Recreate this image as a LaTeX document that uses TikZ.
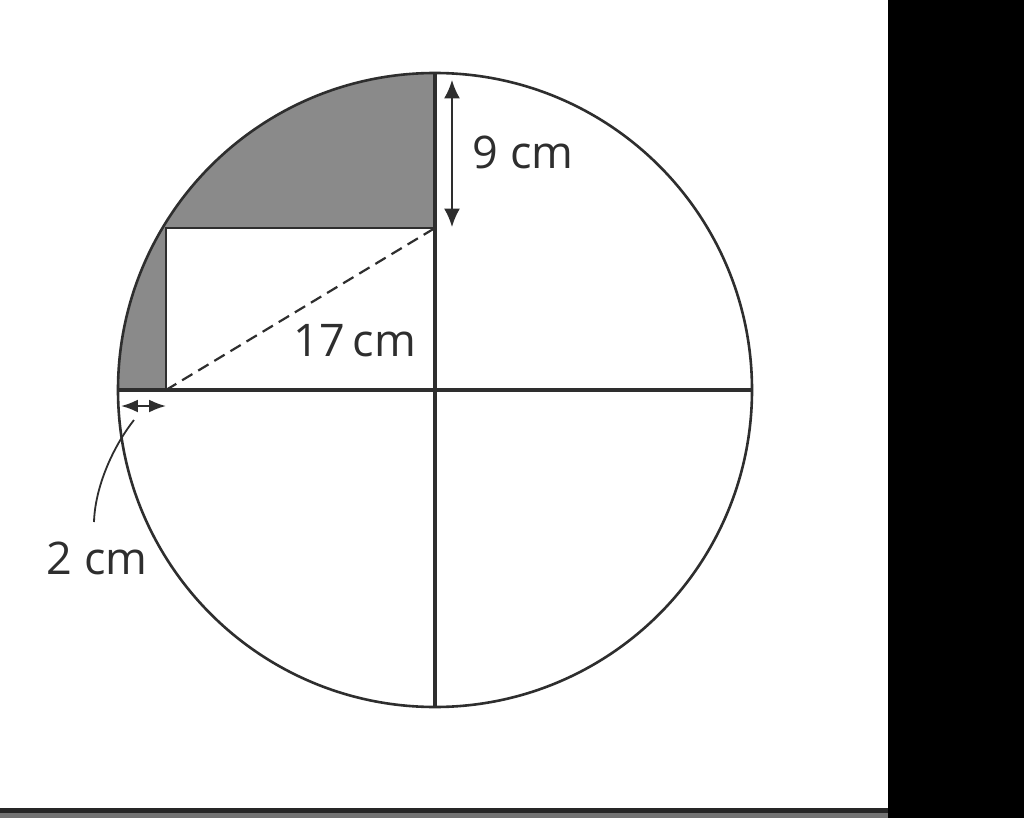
\documentclass[tikz,border=0pt]{standalone}
\usepackage{fontspec}
\setmainfont{Open Sans}
\usepackage{tikz}
\usetikzlibrary{arrows.meta,calc,positioning}

\definecolor{inkC}{HTML}{2E2E2E}
\definecolor{shadeC}{HTML}{8A8A8A}

\begin{document}
\begin{tikzpicture}[x=0.25mm, y=-0.25mm, >=Latex]
  % --- Styles ---
    \tikzset{
      rim/.style     = {draw=inkC,line width=0.65mm},
      axis/.style    = {draw=inkC,line width=0.8mm},
      side/.style    = {draw=inkC,line width=0.55mm},
      diag/.style    = {draw=inkC,line width=0.55mm,dash pattern=on 3mm off 1.7mm},
      dimA/.style    = {draw=inkC,line width=0.5mm,arrows={Latex[length=4.6mm,width=4mm]-Latex[length=4.6mm,width=4mm]}},
      dimB/.style    = {draw=inkC,line width=0.5mm,arrows={Latex[length=4.2mm,width=3.2mm]-Latex[length=4.2mm,width=3.2mm]}},
      lead/.style    = {draw=inkC,line width=0.45mm},
      lab/.style     = {font=\fontsize{32}{38}\selectfont, text=inkC, inner sep=1pt}
    }

    \useasboundingbox (0,0) rectangle (1024,818);
    \fill[white] (0,0) rectangle (1024,818);

    % --- Frame: black strip on the right and rule at the bottom ---
    \fill[black] (888,0) rectangle (1024,818);
    \fill[black!85] (0,808) rectangle (888,813);
    \fill[black!55] (0,813) rectangle (888,818);

    % --- Key points ---
    \coordinate (O) at (435,390);
    \coordinate (W) at (118,390);
    \coordinate (E) at (752,390);
    \coordinate (N) at (435,73);
    \coordinate (S) at (435,707);
    \coordinate (R) at (435,228);   % rectangle top right
    \coordinate (Q) at (166,228);   % rectangle top left
    \coordinate (P) at (166,390);   % rectangle bottom left

    % --- Shaded parts: quarter disc minus rectangle ---
    \fill[shadeC] (O) -- (W) arc[start angle=180,end angle=270,radius=317] -- cycle;
    \fill[white] (P) rectangle (R);

    % --- Circle, diameters and rectangle ---
    \draw[rim] (O) circle[radius=317];
    \draw[axis] (W) -- (E);
    \draw[axis] (N) -- (S);
    \draw[side] (P) -- (Q) -- (R);
    \draw[diag] (P) -- (R);

    % --- 9 cm measure ---
    \coordinate (a1) at (452,80);
    \coordinate (a2) at (452,227);
    \draw[dimA] (a1) -- (a2);
    \node[lab] (nine) at (523,152) {9 cm};

    % --- 17 cm label ---
    \node[lab] (seventeen) at (355,341) {17\,cm};

    % --- 2 cm measure and its leader ---
    \coordinate (b1) at (121,406);
    \coordinate (b2) at (166,406);
    \draw[dimB] (b1) -- (b2);
    \node[lab] (two) at (97,558) {2 cm};
    \coordinate (c1) at (134,420);
    \coordinate (c2) at (94,522);
    \draw[lead] (c1) .. controls (112,448) and (95,488) .. (c2);

\end{tikzpicture}
\end{document}
